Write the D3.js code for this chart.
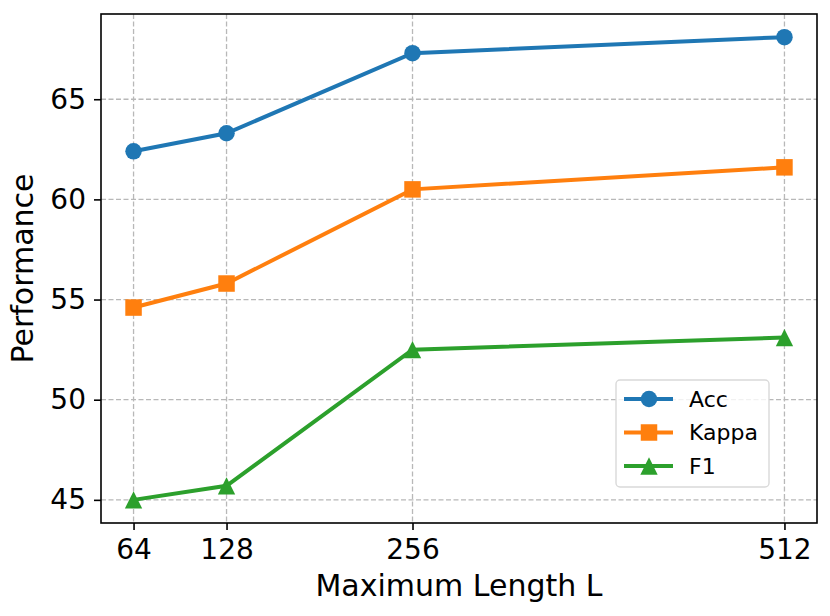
<!DOCTYPE html>
<html>
<head>
<meta charset="utf-8">
<script src="https://cdn.jsdelivr.net/npm/d3@7"></script>
<style>
	body { margin: 0; background: #fff; }
	text { font-family: "DejaVu Sans", sans-serif; }
</style>
</head>
<body>
<div id="chart"></div>
<script>
var lengths = [64, 128, 256, 512];
var accValues = [62.4, 63.3, 67.3, 68.1];
var kappaValues = [54.6, 55.8, 60.5, 61.6];
var f1Values = [45.0, 45.7, 52.5, 53.1];
var yTicks = [45, 50, 55, 60, 65];
var seriesNames = ["Acc", "Kappa", "F1"];

var colorArray = ["#1f77b4", "#ff7f0e", "#2ca02c"];
var markerSize = 16.5;

// matplotlib-like markers: circle, square, triangle with equal width/height
function markerPath(i, m) {
	var h = m / 2;
	if (i == 0) {
		return d3.symbol().type(d3.symbolCircle).size(Math.PI * h * h)();
	}
	if (i == 1) {
		return "M" + -h + "," + -h + "H" + h + "V" + h + "H" + -h + "Z";
	}
	return "M0," + -h * 1.05 + "L" + h * 1.05 + "," + h * 1.05 + "L" + -h * 1.05 + "," + h * 1.05 + "Z";
}

var margin = { top: 14, right: 13, bottom: 93, left: 101 };
var width = 830 - margin.left - margin.right;
var height = 616 - margin.top - margin.bottom;

var svg = d3
	.select("#chart")
	.append("svg")
	.attr("width", 830)
	.attr("height", 616);

var g = svg.append("g").attr("transform", "translate(" + margin.left + "," + margin.top + ")");

// matplotlib style 5% padding
var xPad = (d3.max(lengths) - d3.min(lengths)) * 0.05;
var xScale = d3
	.scaleLinear()
	.domain([d3.min(lengths) - xPad, d3.max(lengths) + xPad])
	.range([0, width]);

var allVals = accValues.concat(kappaValues, f1Values);
var yPad = (d3.max(allVals) - d3.min(allVals)) * 0.05;
var yScale = d3
	.scaleLinear()
	.domain([d3.min(allVals) - yPad, d3.max(allVals) + yPad])
	.range([height, 0]);

// grid
g.append("g")
	.selectAll("line")
	.data(lengths)
	.enter()
	.append("line")
	.attr("x1", (d) => xScale(d))
	.attr("x2", (d) => xScale(d))
	.attr("y1", 0)
	.attr("y2", height)
	.style("stroke", "#b8b8b8")
	.style("stroke-width", 1.3)
	.style("stroke-dasharray", "5,2.5");
g.append("g")
	.selectAll("line")
	.data(yTicks)
	.enter()
	.append("line")
	.attr("x1", 0)
	.attr("x2", width)
	.attr("y1", (d) => yScale(d))
	.attr("y2", (d) => yScale(d))
	.style("stroke", "#b8b8b8")
	.style("stroke-width", 1.3)
	.style("stroke-dasharray", "5,2.5");

var xAxis = d3.axisBottom(xScale).tickValues(lengths).tickSize(7).tickPadding(9);
var yAxis = d3.axisLeft(yScale).tickValues(yTicks).tickSize(7).tickPadding(8);

var xg = g.append("g").attr("transform", "translate(0," + height + ")").call(xAxis);
var yg = g.append("g").call(yAxis);
[xg, yg].forEach(function (ax) {
	ax.select(".domain").remove();
	ax.selectAll(".tick line").style("stroke", "#000").style("stroke-width", 1.6);
	ax.selectAll(".tick text")
		.style("font-size", "28px")
		.style("font-family", "DejaVu Sans")
		.style("fill", "#000");
});

var series = [accValues, kappaValues, f1Values];
for (let i = 0; i < series.length; i++) {
	var pts = lengths.map((d, j) => ({ x: d, y: series[i][j] }));
	var line = d3
		.line()
		.x((d) => xScale(d.x))
		.y((d) => yScale(d.y));
	g.append("path")
		.datum(pts)
		.attr("d", line)
		.style("fill", "none")
		.style("stroke", colorArray[i])
		.style("stroke-width", 4);
	g.selectAll(".m" + i)
		.data(pts)
		.enter()
		.append("path")
		.attr("class", "m" + i)
		.attr("transform", (d) => "translate(" + xScale(d.x) + "," + yScale(d.y) + ")")
		.attr("d", markerPath(i, markerSize))
		.style("fill", colorArray[i]);
}

// frame
g.append("rect")
	.attr("width", width)
	.attr("height", height)
	.style("fill", "none")
	.style("stroke", "#000")
	.style("stroke-width", 1.6);

// legend
var legend = g.append("g").attr("transform", "translate(" + (616 - margin.left) + "," + (380 - margin.top) + ")");
legend.append("rect")
	.attr("width", 153)
	.attr("height", 107)
	.attr("rx", 4)
	.style("fill", "#fff")
	.style("fill-opacity", 0.8)
	.style("stroke", "#d9d9d9")
	.style("stroke-width", 1.4);
for (let i = 0; i < seriesNames.length; i++) {
	var ly = 19 + i * 33.5;
	legend.append("line")
		.attr("x1", 8)
		.attr("x2", 57)
		.attr("y1", ly)
		.attr("y2", ly)
		.style("stroke", colorArray[i])
		.style("stroke-width", 4);
	legend.append("path")
		.attr("transform", "translate(33," + ly + ")")
		.attr("d", markerPath(i, markerSize))
		.style("fill", colorArray[i]);
	legend.append("text")
		.attr("x", 73)
		.attr("y", ly)
		.attr("dy", ".35em")
		.style("font-size", "22px")
		.text(seriesNames[i]);
}

svg.append("text")
	.attr("x", margin.left + width / 2)
	.attr("y", 596)
	.style("text-anchor", "middle")
	.style("font-size", "30px")
	.text("Maximum Length L");

svg.append("text")
	.attr("transform", "rotate(-90)")
	.attr("x", -(margin.top + height / 2))
	.attr("y", 33)
	.style("text-anchor", "middle")
	.style("font-size", "30px")
	.text("Performance");
</script>
</body>
</html>
